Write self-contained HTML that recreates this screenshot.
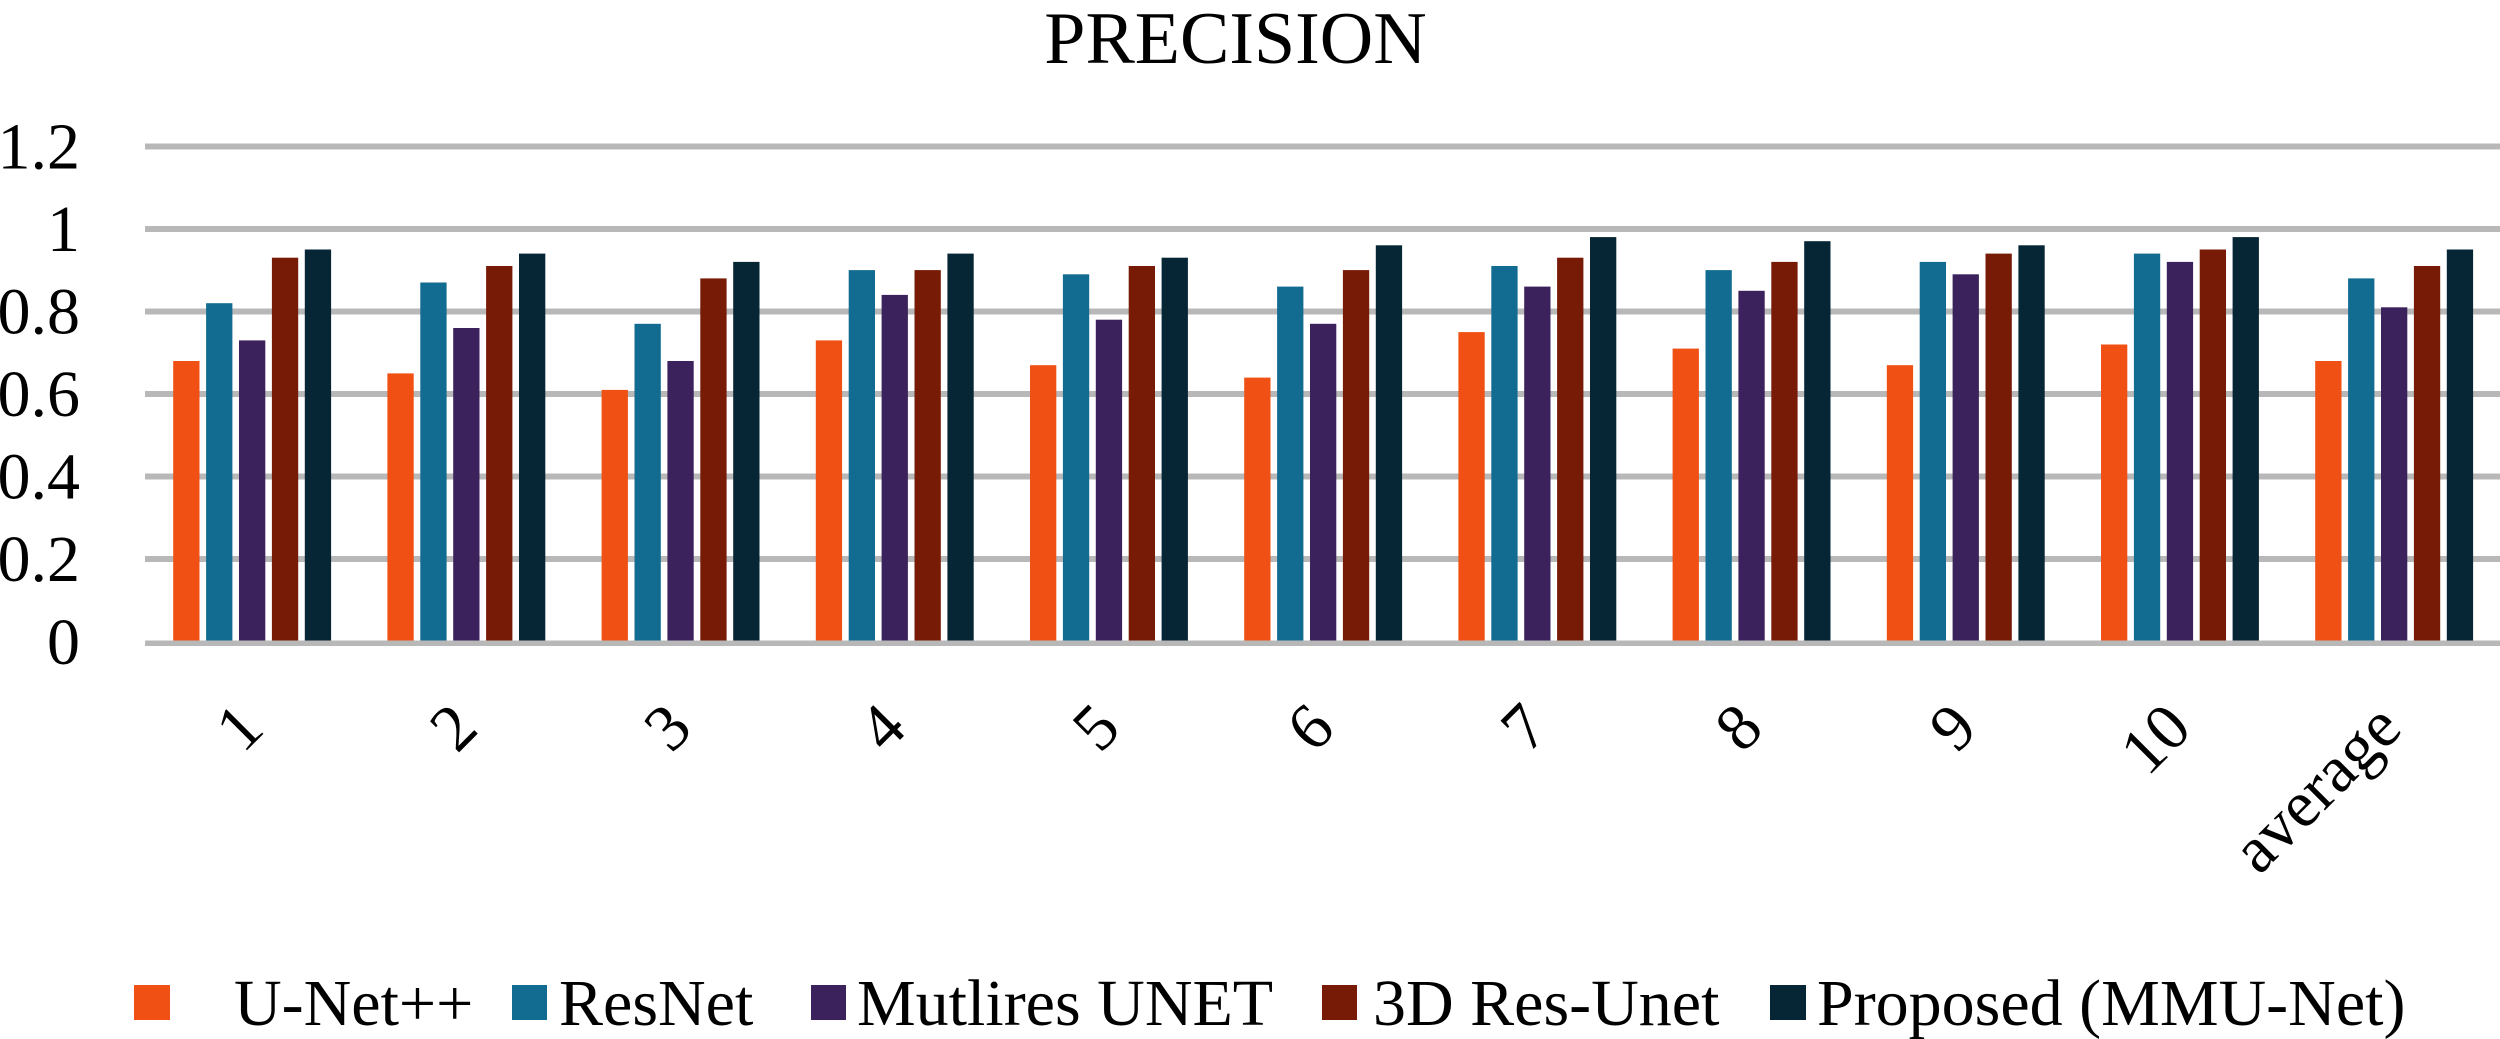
<!DOCTYPE html>
<html>
<head>
<meta charset="utf-8">
<style>
  html, body { margin: 0; padding: 0; background: #ffffff; }
  svg { display: block; }
  text { font-family: "Liberation Serif", "Times New Roman", serif; fill: #000; }
</style>
</head>
<body>
<svg width="2500" height="1039" viewBox="0 0 2500 1039" xmlns="http://www.w3.org/2000/svg">
  <rect x="0" y="0" width="2500" height="1039" fill="#ffffff"/>

  <!-- Title -->
  <text x="1235.5" y="63" font-size="74" text-anchor="middle">PRECISION</text>

  <!-- Gridlines -->
  <g fill="#b8b8b8">
    <rect x="145" y="143.5" width="2355" height="6"/>
    <rect x="145" y="226" width="2355" height="6"/>
    <rect x="145" y="308.5" width="2355" height="6"/>
    <rect x="145" y="391" width="2355" height="6"/>
    <rect x="145" y="473.5" width="2355" height="6"/>
    <rect x="145" y="556" width="2355" height="6"/>
  </g>

  <!-- Y tick labels -->
  <g font-size="66" text-anchor="end">
    <text x="80" y="168.5">1.2</text>
    <text x="80" y="251">1</text>
    <text x="80" y="333.5">0.8</text>
    <text x="80" y="416">0.6</text>
    <text x="80" y="498.5">0.4</text>
    <text x="80" y="581">0.2</text>
    <text x="80" y="664">0</text>
  </g>

  <!-- Bars -->
  <!-- group 1 -->
  <g transform="translate(173.2,0)">
    <rect x="0" y="361.0" width="26.3" height="281.0" fill="#F05013"/>
    <rect x="32.9" y="303.2" width="26.3" height="338.8" fill="#126B91"/>
    <rect x="65.8" y="340.4" width="26.3" height="301.6" fill="#3B225D"/>
    <rect x="98.7" y="257.7" width="26.3" height="384.3" fill="#771B06"/>
    <rect x="131.6" y="249.5" width="26.3" height="392.5" fill="#062535"/>
  </g>
  <!-- group 2 -->
  <g transform="translate(387.4,0)">
    <rect x="0" y="373.4" width="26.3" height="268.6" fill="#F05013"/>
    <rect x="32.9" y="282.5" width="26.3" height="359.5" fill="#126B91"/>
    <rect x="65.8" y="328.0" width="26.3" height="314.0" fill="#3B225D"/>
    <rect x="98.7" y="266.0" width="26.3" height="376.0" fill="#771B06"/>
    <rect x="131.6" y="253.6" width="26.3" height="388.4" fill="#062535"/>
  </g>
  <!-- group 3 -->
  <g transform="translate(601.6,0)">
    <rect x="0" y="389.9" width="26.3" height="252.1" fill="#F05013"/>
    <rect x="32.9" y="323.8" width="26.3" height="318.2" fill="#126B91"/>
    <rect x="65.8" y="361.0" width="26.3" height="281.0" fill="#3B225D"/>
    <rect x="98.7" y="278.4" width="26.3" height="363.6" fill="#771B06"/>
    <rect x="131.6" y="261.9" width="26.3" height="380.1" fill="#062535"/>
  </g>
  <!-- group 4 -->
  <g transform="translate(815.8,0)">
    <rect x="0" y="340.4" width="26.3" height="301.6" fill="#F05013"/>
    <rect x="32.9" y="270.1" width="26.3" height="371.9" fill="#126B91"/>
    <rect x="65.8" y="294.9" width="26.3" height="347.1" fill="#3B225D"/>
    <rect x="98.7" y="270.1" width="26.3" height="371.9" fill="#771B06"/>
    <rect x="131.6" y="253.6" width="26.3" height="388.4" fill="#062535"/>
  </g>
  <!-- group 5 -->
  <g transform="translate(1030.0,0)">
    <rect x="0" y="365.2" width="26.3" height="276.8" fill="#F05013"/>
    <rect x="32.9" y="274.3" width="26.3" height="367.7" fill="#126B91"/>
    <rect x="65.8" y="319.7" width="26.3" height="322.3" fill="#3B225D"/>
    <rect x="98.7" y="266.0" width="26.3" height="376.0" fill="#771B06"/>
    <rect x="131.6" y="257.7" width="26.3" height="384.3" fill="#062535"/>
  </g>
  <!-- group 6 -->
  <g transform="translate(1244.2,0)">
    <rect x="0" y="377.6" width="26.3" height="264.4" fill="#F05013"/>
    <rect x="32.9" y="286.6" width="26.3" height="355.4" fill="#126B91"/>
    <rect x="65.8" y="323.8" width="26.3" height="318.2" fill="#3B225D"/>
    <rect x="98.7" y="270.1" width="26.3" height="371.9" fill="#771B06"/>
    <rect x="131.6" y="245.3" width="26.3" height="396.7" fill="#062535"/>
  </g>
  <!-- group 7 -->
  <g transform="translate(1458.4,0)">
    <rect x="0" y="332.1" width="26.3" height="309.9" fill="#F05013"/>
    <rect x="32.9" y="266.0" width="26.3" height="376.0" fill="#126B91"/>
    <rect x="65.8" y="286.6" width="26.3" height="355.4" fill="#3B225D"/>
    <rect x="98.7" y="257.7" width="26.3" height="384.3" fill="#771B06"/>
    <rect x="131.6" y="237.1" width="26.3" height="404.9" fill="#062535"/>
  </g>
  <!-- group 8 -->
  <g transform="translate(1672.6,0)">
    <rect x="0" y="348.6" width="26.3" height="293.4" fill="#F05013"/>
    <rect x="32.9" y="270.1" width="26.3" height="371.9" fill="#126B91"/>
    <rect x="65.8" y="290.8" width="26.3" height="351.2" fill="#3B225D"/>
    <rect x="98.7" y="261.9" width="26.3" height="380.1" fill="#771B06"/>
    <rect x="131.6" y="241.2" width="26.3" height="400.8" fill="#062535"/>
  </g>
  <!-- group 9 -->
  <g transform="translate(1886.8,0)">
    <rect x="0" y="365.2" width="26.3" height="276.8" fill="#F05013"/>
    <rect x="32.9" y="261.9" width="26.3" height="380.1" fill="#126B91"/>
    <rect x="65.8" y="274.3" width="26.3" height="367.7" fill="#3B225D"/>
    <rect x="98.7" y="253.6" width="26.3" height="388.4" fill="#771B06"/>
    <rect x="131.6" y="245.3" width="26.3" height="396.7" fill="#062535"/>
  </g>
  <!-- group 10 -->
  <g transform="translate(2101.0,0)">
    <rect x="0" y="344.5" width="26.3" height="297.5" fill="#F05013"/>
    <rect x="32.9" y="253.6" width="26.3" height="388.4" fill="#126B91"/>
    <rect x="65.8" y="261.9" width="26.3" height="380.1" fill="#3B225D"/>
    <rect x="98.7" y="249.5" width="26.3" height="392.5" fill="#771B06"/>
    <rect x="131.6" y="237.1" width="26.3" height="404.9" fill="#062535"/>
  </g>
  <!-- group average -->
  <g transform="translate(2315.2,0)">
    <rect x="0" y="361.0" width="26.3" height="281.0" fill="#F05013"/>
    <rect x="32.9" y="278.4" width="26.3" height="363.6" fill="#126B91"/>
    <rect x="65.8" y="307.3" width="26.3" height="334.7" fill="#3B225D"/>
    <rect x="98.7" y="266.0" width="26.3" height="376.0" fill="#771B06"/>
    <rect x="131.6" y="249.5" width="26.3" height="392.5" fill="#062535"/>
  </g>

  <!-- Zero axis line -->
  <rect x="145" y="640.5" width="2355" height="5.5" fill="#b8b8b8"/>

  <!-- X labels (rotated -45) -->
  <g font-size="66" text-anchor="end">
    <text x="266.2" y="731" transform="rotate(-45 266.2 731)">1</text>
    <text x="480.4" y="731" transform="rotate(-45 480.4 731)">2</text>
    <text x="694.6" y="731" transform="rotate(-45 694.6 731)">3</text>
    <text x="908.8" y="731" transform="rotate(-45 908.8 731)">4</text>
    <text x="1123" y="731" transform="rotate(-45 1123 731)">5</text>
    <text x="1337.2" y="731" transform="rotate(-45 1337.2 731)">6</text>
    <text x="1551.4" y="731" transform="rotate(-45 1551.4 731)">7</text>
    <text x="1765.6" y="731" transform="rotate(-45 1765.6 731)">8</text>
    <text x="1979.8" y="731" transform="rotate(-45 1979.8 731)">9</text>
    <text x="2194" y="731" transform="rotate(-45 2194 731)">10</text>
    <text x="2404.2" y="731" transform="rotate(-45 2404.2 731)">average</text>
  </g>

  <!-- Legend -->
  <rect x="134" y="985" width="36" height="35" fill="#F05013"/>
  <text x="234" y="1025" font-size="66">U-Net++</text>
  <rect x="512" y="985" width="35" height="35" fill="#126B91"/>
  <text x="559" y="1025" font-size="66">ResNet</text>
  <rect x="811" y="985" width="35" height="35" fill="#3B225D"/>
  <text x="857" y="1025" font-size="66">Mutlires UNET</text>
  <rect x="1322" y="985" width="35" height="35" fill="#771B06"/>
  <text x="1373" y="1025" font-size="66">3D Res-Unet</text>
  <rect x="1770" y="985" width="36" height="35" fill="#062535"/>
  <text x="1817" y="1025" font-size="66">Proposed (MMU-Net)</text>
</svg>
</body>
</html>
